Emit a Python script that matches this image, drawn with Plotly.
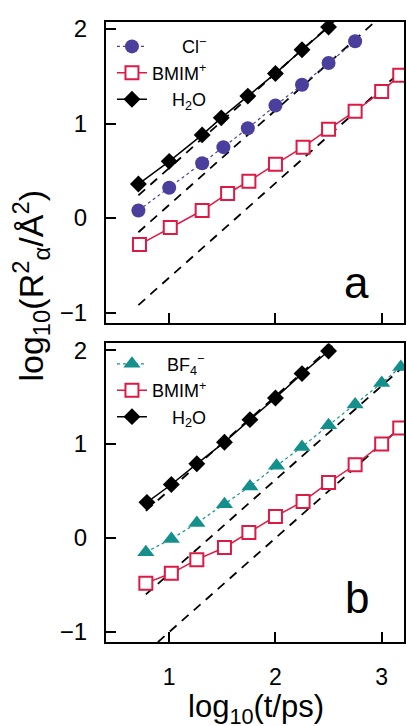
import plotly.graph_objects as go

# ---------------- data ----------------
# Panel a
a_cl_x = [0.71, 1.00, 1.31, 1.51, 1.74, 2.00, 2.25, 2.50, 2.75]
a_cl_y = [0.08, 0.32, 0.58, 0.75, 0.95, 1.19, 1.41, 1.64, 1.87]
a_bmim_x = [0.72, 1.01, 1.31, 1.55, 1.75, 2.00, 2.26, 2.50, 2.75, 3.00, 3.17]
a_bmim_y = [-0.28, -0.10, 0.08, 0.26, 0.39, 0.57, 0.75, 0.94, 1.13, 1.34, 1.51]
a_h2o_x = [0.71, 1.00, 1.31, 1.49, 1.74, 2.00, 2.25, 2.50]
a_h2o_y = [0.36, 0.60, 0.88, 1.06, 1.29, 1.53, 1.78, 2.02]
# slope-1 guide lines (log10 R^2 = log10 t + c)
a_guide_x = [0.71, 3.40]
a_guide_c = [-0.47, -0.86, -1.63]

# Panel b
b_bf4_x = [0.78, 1.02, 1.26, 1.52, 1.76, 2.01, 2.25, 2.50, 2.75, 3.00, 3.18]
b_bf4_y = [-0.15, -0.01, 0.16, 0.36, 0.55, 0.77, 0.97, 1.20, 1.42, 1.65, 1.82]
b_bmim_x = [0.78, 1.02, 1.26, 1.52, 1.75, 2.00, 2.26, 2.50, 2.75, 3.00, 3.17]
b_bmim_y = [-0.48, -0.375, -0.23, -0.10, 0.06, 0.23, 0.39, 0.59, 0.78, 1.00, 1.17]
b_h2o_x = [0.79, 1.02, 1.26, 1.52, 1.76, 2.00, 2.25, 2.50]
b_h2o_y = [0.38, 0.57, 0.79, 1.02, 1.26, 1.49, 1.75, 1.99]
b_guide_x = [0.78, 3.40]
b_guide_c = [-0.49, -1.38, -2.00]

x_ticks = [1, 2, 3]
x_ticklabels = ["1", "2", "3"]
y_ticks = [-1, 0, 1, 2]
y_ticklabels = ["\u22121", "0", "1", "2"]

# ---------------- styling ----------------
FONT = "Liberation Sans, Arial, Helvetica, sans-serif"
C_CL = "#4a3f9c"
C_BF4 = "#14908c"
C_BMIM = "#dc1a45"
C_H2O = "#000000"
NB = "\u00a0"

fig = go.Figure()


def add_guides(xs, cs, xa, ya):
    for c in cs:
        fig.add_trace(go.Scatter(
            x=xs, y=[x + c for x in xs], mode="lines", xaxis=xa, yaxis=ya,
            line=dict(color="black", width=1.8, dash="9px,7px"),
            showlegend=False, hoverinfo="skip"))


add_guides(a_guide_x, a_guide_c, "x", "y")
add_guides(b_guide_x, b_guide_c, "x2", "y2")

# panel a series
fig.add_trace(go.Scatter(
    x=a_cl_x, y=a_cl_y, mode="lines+markers", xaxis="x", yaxis="y",
    name=NB * 6 + "Cl<sup>\u2212</sup>", legend="legend",
    line=dict(color=C_CL, width=1.2, dash="dot"),
    marker=dict(symbol="circle", size=14, color=C_CL)))
fig.add_trace(go.Scatter(
    x=a_bmim_x, y=a_bmim_y, mode="lines+markers", xaxis="x", yaxis="y",
    name="BMIM<sup>+</sup>", legend="legend",
    line=dict(color=C_BMIM, width=1.5),
    marker=dict(symbol="square", size=13, color="white",
                line=dict(color=C_BMIM, width=2))))
fig.add_trace(go.Scatter(
    x=a_h2o_x, y=a_h2o_y, mode="lines+markers", xaxis="x", yaxis="y",
    name=NB * 4 + "H<sub>2</sub>O", legend="legend",
    line=dict(color=C_H2O, width=1.5),
    marker=dict(symbol="diamond", size=13, color=C_H2O)))

# panel b series
fig.add_trace(go.Scatter(
    x=b_bf4_x, y=b_bf4_y, mode="lines+markers", xaxis="x2", yaxis="y2",
    name=NB * 3 + "BF<sub>4</sub><sup>\u2212</sup>", legend="legend2",
    line=dict(color=C_BF4, width=1.2, dash="dot"),
    marker=dict(symbol="triangle-up", size=15, color=C_BF4)))
fig.add_trace(go.Scatter(
    x=b_bmim_x, y=b_bmim_y, mode="lines+markers", xaxis="x2", yaxis="y2",
    name="BMIM<sup>+</sup>", legend="legend2",
    line=dict(color=C_BMIM, width=1.5),
    marker=dict(symbol="square", size=13, color="white",
                line=dict(color=C_BMIM, width=2))))
fig.add_trace(go.Scatter(
    x=b_h2o_x, y=b_h2o_y, mode="lines+markers", xaxis="x2", yaxis="y2",
    name=NB * 4 + "H<sub>2</sub>O", legend="legend2",
    line=dict(color=C_H2O, width=1.5),
    marker=dict(symbol="diamond", size=13, color=C_H2O)))

axis_common = dict(
    showline=True, linecolor="black", linewidth=2, mirror=True,
    ticks="inside", ticklen=10, tickwidth=1.5, tickcolor="black",
    showgrid=False, zeroline=False,
)
yfont = dict(family=FONT, size=24, color="black")
xfont = dict(family=FONT, size=23, color="black")
xr = [0.405, 3.21]
legend_common = dict(xanchor="left", yanchor="top", bgcolor="rgba(0,0,0,0)",
                     font=dict(family=FONT, size=18), tracegroupgap=0,
                     itemsizing="trace")

fig.update_layout(
    width=407, height=726,
    margin=dict(l=106, r=1, t=22, b=84),
    paper_bgcolor="white", plot_bgcolor="white",
    font=dict(family=FONT, color="black"),
    xaxis=dict(domain=[0, 1], anchor="y", range=xr, tickvals=x_ticks,
               ticktext=x_ticklabels, showticklabels=False, tickfont=xfont,
               **axis_common),
    yaxis=dict(domain=[0.5145, 1], anchor="x", range=[-1.11, 2.074],
               tickvals=y_ticks, ticktext=y_ticklabels, ticklabelstandoff=12,
               tickfont=yfont, **axis_common),
    xaxis2=dict(domain=[0, 1], anchor="y2", range=xr, tickvals=x_ticks,
                ticktext=x_ticklabels, ticklabelstandoff=13, tickfont=xfont,
                **axis_common),
    yaxis2=dict(domain=[0, 0.482], anchor="x2", range=[-1.106, 2.074],
                tickvals=y_ticks, ticktext=y_ticklabels, ticklabelstandoff=12,
                tickfont=yfont, **axis_common),
    legend=dict(x=0.02, y=0.99, **legend_common),
    legend2=dict(x=0.02, y=0.478, **legend_common),
    annotations=[
        dict(text="a", xref="paper", yref="paper", x=(358 - 106) / 300,
             y=(642 - 282) / 620, showarrow=False, xanchor="center",
             yanchor="middle", font=dict(family=FONT, size=44)),
        dict(text="b", xref="paper", yref="paper", x=(359 - 106) / 300,
             y=(642 - 597) / 620, showarrow=False, xanchor="center",
             yanchor="middle", font=dict(family=FONT, size=44)),
        dict(text="log<sub>10</sub>(t/ps)", xref="paper", yref="paper",
             x=(257 - 106) / 300, y=(642 - 709) / 620, showarrow=False,
             xanchor="center", yanchor="middle",
             font=dict(family=FONT, size=31)),
        dict(text="log<sub>10</sub>(R<sup>2</sup><sub>\u03b1</sub>/\u00c5<sup>2</sup>)",
             xref="paper", yref="paper", x=(30 - 106) / 300,
             y=(642 - 286) / 620, showarrow=False, textangle=-90,
             xanchor="center", yanchor="middle",
             font=dict(family=FONT, size=34)),
    ],
)

fig.write_html("out.html",
               config={"displayModeBar": False},
               post_script="document.body.style.margin='0';"
                           "document.body.style.padding='0';")
